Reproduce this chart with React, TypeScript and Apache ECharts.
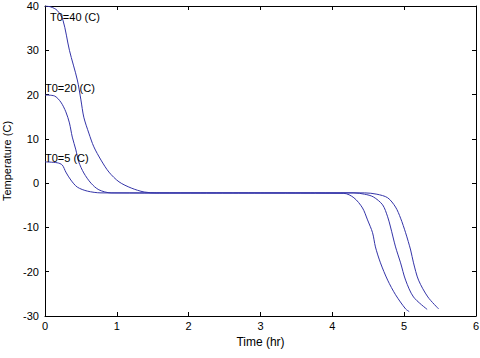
import React, { useEffect, useRef } from "react";
import * as echarts from "echarts";

// [time (hr), temperature (C)]
const curveT40: [number, number][] = [
  [0, 40], [0.08, 39.8], [0.17, 39], [0.25, 36.8], [0.34, 30], [0.45, 23.3], [0.5, 18.8],
  [0.54, 14.9], [0.61, 11.3], [0.68, 8.2], [0.78, 5.2], [0.89, 2.5], [1.03, 0.3], [1.2, -1.1],
  [1.38, -2], [1.55, -2.2],
  [4.45, -2.2], [4.62, -2.5], [4.77, -3.3], [4.88, -5.4], [4.95, -7.9], [5.02, -11.2],
  [5.09, -15.1], [5.13, -18], [5.2, -21.9], [5.33, -25.7], [5.48, -28.4],
];
const curveT20: [number, number][] = [
  [0, 19.9], [0.13, 19.7], [0.22, 18.3], [0.29, 16.1], [0.34, 13.6], [0.38, 10.4], [0.43, 7.5],
  [0.47, 4.8], [0.54, 2.3], [0.64, 0], [0.75, -1.5], [0.92, -2.2],
  [4.3, -2.2], [4.45, -2.5], [4.57, -3.1], [4.7, -4.9], [4.77, -7.6], [4.81, -9.9],
  [4.88, -14.4], [4.95, -18], [5.02, -21.9], [5.13, -25.7], [5.32, -28.5],
];
const curveT5: [number, number][] = [
  [0, 4.8], [0.17, 4.6], [0.24, 4.1], [0.29, 2.5], [0.36, 0.7], [0.45, -0.9], [0.59, -1.8],
  [0.78, -2.2],
  [4.16, -2.3], [4.3, -3.3], [4.42, -5.6], [4.49, -8.3], [4.56, -11.2], [4.6, -14.4],
  [4.67, -18], [4.77, -21.9], [4.88, -25.2], [5.02, -28.4], [5.07, -29],
];
const labelTexts = ["T0=40 (C)", "T0=20 (C)", "T0=5 (C)"];
const labelAnchors: [number, number][] = [[0.07, 37.5], [0, 21.5], [0, 5.7]];

const lineColor = "#3434a8";
const font = "Liberation Sans, Arial, sans-serif";

export default function App() {
  const ref = useRef<HTMLDivElement>(null);
  useEffect(() => {
    if (!ref.current) return;
    const chart = echarts.init(ref.current, undefined, { renderer: "svg" });
    const mk = (data: [number, number][], idx: number) => ({
      type: "line",
      data,
      smooth: 0.3,
      showSymbol: false,
      symbol: "none",
      xAxisIndex: 0,
      yAxisIndex: 0,
      lineStyle: { color: lineColor, width: 1 },
      markPoint: {
        symbol: "circle",
        symbolSize: 0,
        silent: true,
        data: [
          {
            coord: labelAnchors[idx],
            label: {
              show: true,
              formatter: labelTexts[idx],
              position: "right",
              distance: 0,
              color: "#000",
              fontSize: 11,
              fontFamily: font,
            },
          },
        ],
      },
    });
    const tickStyle = { inside: true, length: 4, lineStyle: { color: "#000" } };
    chart.setOption({
      animation: false,
      backgroundColor: "#fff",
      grid: { left: 45, right: 4, top: 6, bottom: 42, containLabel: false, outerBoundsMode: "none" },
      xAxis: [
        {
          type: "value",
          min: 0,
          max: 6,
          interval: 1,
          position: "bottom",
          name: "Time (hr)",
          nameLocation: "middle",
          nameGap: 16,
          nameTextStyle: { color: "#000", fontSize: 12, fontFamily: font },
          axisLine: { show: true, onZero: false, lineStyle: { color: "#000" } },
          axisTick: tickStyle,
          axisLabel: { color: "#000", fontSize: 11, fontFamily: font, margin: 4 },
          splitLine: { show: false },
        },
        {
          type: "value",
          min: 0,
          max: 6,
          interval: 1,
          position: "top",
          axisLine: { show: true, onZero: false, lineStyle: { color: "#000" } },
          axisTick: tickStyle,
          axisLabel: { show: false },
          splitLine: { show: false },
        },
      ],
      yAxis: [
        {
          type: "value",
          min: -30,
          max: 40,
          interval: 10,
          position: "left",
          name: "Temperature (C)",
          nameLocation: "middle",
          nameGap: 28,
          nameTextStyle: { color: "#000", fontSize: 11, fontFamily: font },
          axisLine: { show: true, onZero: false, lineStyle: { color: "#000" } },
          axisTick: tickStyle,
          axisLabel: { color: "#000", fontSize: 11, fontFamily: font, margin: 6 },
          splitLine: { show: false },
        },
        {
          type: "value",
          min: -30,
          max: 40,
          interval: 10,
          position: "right",
          axisLine: { show: true, onZero: false, lineStyle: { color: "#000" } },
          axisTick: tickStyle,
          axisLabel: { show: false },
          splitLine: { show: false },
        },
      ],
      series: [mk(curveT40, 0), mk(curveT20, 1), mk(curveT5, 2)],
    });
    return () => chart.dispose();
  }, []);
  return (
    <div
      ref={ref}
      style={{ position: "fixed", left: 0, top: 0, width: 480, height: 358, background: "#fff" }}
    />
  );
}
